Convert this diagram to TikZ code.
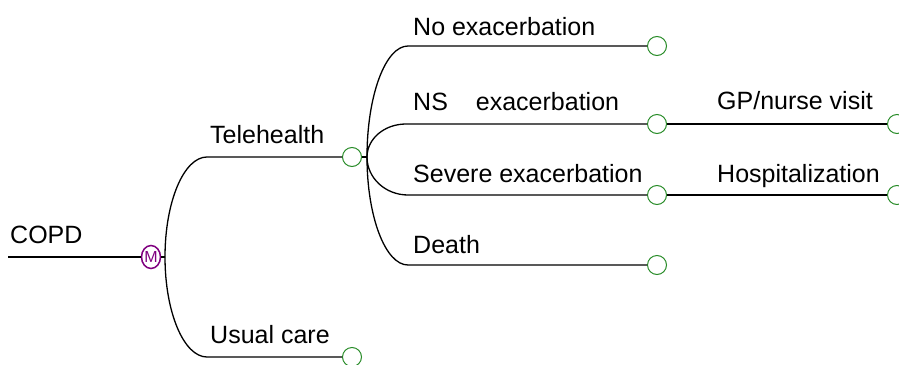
\documentclass[tikz,border=0pt]{standalone}
\usepackage{fontspec}
\setmainfont{Liberation Sans}
\usetikzlibrary{calc,shapes.geometric}
\definecolor{chgreen}{RGB}{40,140,40}
\definecolor{mkpurple}{RGB}{128,0,128}
\begin{document}
\begin{tikzpicture}[x=1pt,y=-1pt,
  lbl/.style={anchor=base west, font=\fontsize{25}{29}\selectfont, inner sep=0pt},
  chance/.style={circle, draw=chgreen, line width=1pt, minimum size=19pt, inner sep=0pt},
  markov/.style={ellipse, draw=mkpurple, line width=1.5pt, minimum width=19pt, minimum height=23pt, inner sep=0pt, text=mkpurple, font=\fontsize{16}{16}\selectfont},
  branch/.style={draw, line width=1.3pt},
  ell/.style={to path={.. controls ($(\tikztostart)!0.552!(\tikztostart|-\tikztotarget)$) and ($(\tikztotarget)!0.552!(\tikztostart|-\tikztotarget)$) .. (\tikztotarget)}}
]
\useasboundingbox[fill=white] (0,0) rectangle (899,364);
% nodes
\coordinate (s) at (8,257);
\node[markov] (m) at (151,257) {M};
\coordinate (mb) at (165,257);
\coordinate (th0) at (207,157);
\node[chance] (th) at (352,157) {};
\coordinate (uc0) at (207,357);
\node[chance] (uc) at (352,357) {};
\coordinate (tb) at (367,157);
\coordinate (ne0) at (408,46);
\node[chance] (ne) at (657,46) {};
\coordinate (ns0) at (406,124);
\node[chance] (ns) at (657,124) {};
\coordinate (se0) at (408,195);
\node[chance] (se) at (657,195) {};
\coordinate (de0) at (408,265);
\node[chance] (de) at (657,265) {};
\node[chance] (gp) at (897,124) {};
\node[chance] (ho) at (897,195) {};
% connectors
\draw[branch] (s) -- (m);
\draw[branch] (m) -- (mb);
\draw[branch] (mb) to[ell] (th0) -- (th);
\draw[branch] (mb) to[ell] (uc0) -- (uc);
\draw[branch] (th) -- (tb);
\draw[branch] (tb) to[ell] (ne0) -- (ne);
\draw[branch] (tb) to[ell] (ns0) -- (ns);
\draw[branch] (tb) to[ell] (se0) -- (se);
\draw[branch] (tb) to[ell] (de0) -- (de);
\draw[branch] (ns) -- (gp);
\draw[branch] (se) -- (ho);
% labels
\node[lbl] (lcopd) at (10,243) {COPD};
\node[lbl] (lth) at (210,143) {Telehealth};
\node[lbl] (luc) at (210,343) {Usual care};
\node[lbl] (lne) at (413,35) {No exacerbation};
\node[lbl] (lns) at (413,110) {NS\hspace{28pt}exacerbation};
\node[lbl] (lse) at (413,182) {Severe exacerbation};
\node[lbl] (lde) at (413,253) {Death};
\node[lbl] (lgp) at (717,109) {GP/nurse visit};
\node[lbl] (lho) at (717,182) {Hospitalization};
\end{tikzpicture}
\end{document}
